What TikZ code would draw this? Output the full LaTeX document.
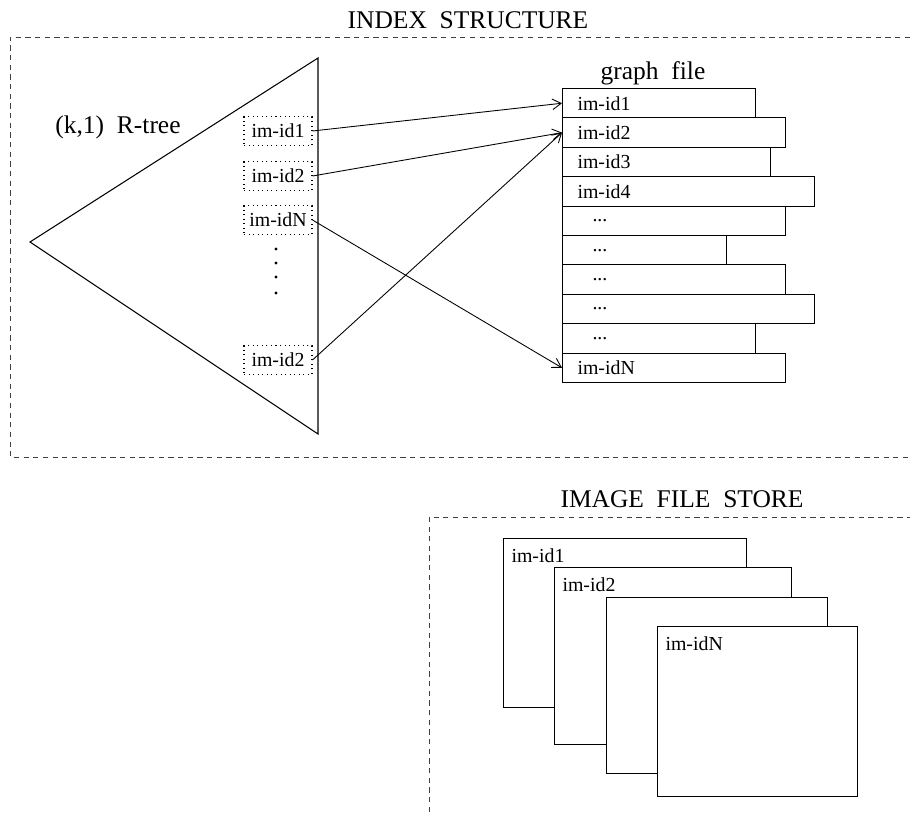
\documentclass[tikz,border=0pt]{standalone}
\usepackage{fontspec}
\setmainfont{Liberation Serif}
\usetikzlibrary{arrows.meta}

\begin{document}
\begin{tikzpicture}[x=0.02cm, y=-0.02cm, line width=0.6pt,
    small/.style={font=\fontsize{11.3}{13}\selectfont},
    big/.style={font=\fontsize{14.5}{17}\selectfont},
    region/.style={dash pattern=on 3pt off 2.5pt, line width=0.5pt, draw=black!75},
    idbox/.style={draw, dotted, small, minimum width=1.36cm, minimum height=0.58cm, inner sep=0pt},
    row/.style={draw, small, anchor=north west, minimum height=0.588cm, inner xsep=0.3cm, inner ysep=0pt, align=left},
    frame/.style={draw, fill=white, anchor=north west, inner sep=0pt},
    tag/.style={small, anchor=north west, inner sep=0pt, xshift=0.16cm, yshift=-0.2cm},
    link/.style={-{Straight Barb[length=5pt, width=6pt]}, line width=0.5pt}]
  \useasboundingbox (0, 0) rectangle (910, 818);
  % dashed regions
  \draw [region] (910, 37) -- (10, 37) -- (10, 457) -- (910, 457);
  \draw [region] (429, 812) -- (429, 517) -- (910, 517);
  \node [big] (idxtitle) at (468, 20) {INDEX\ \ STRUCTURE};
  \node [big] (imgtitle) at (682, 499) {IMAGE\ \ FILE\ \ STORE};
  % the R-tree
  \draw (30, 242) -- (318, 58) -- (318, 434) -- cycle;
  \node [big] (rtree) at (118, 127) {(k,1)\ \ R-tree};
  \node [idbox] (leaf1) at (278, 131) {im-id1};
  \node [idbox] (leaf2) at (278, 176) {im-id2};
  \node [idbox] (leafN) at (278, 220) {im-idN};
  \node [idbox] (leafL) at (278, 360) {im-id2};
  \foreach \y in {249, 263, 277, 293}
    \fill (276, \y) circle (0.9pt);
  % graph file
  \node [big] (gtitle) at (653, 73) {graph\ \ file};
  \node [row, text width=3.26cm] (g1) at (562, 88.0) {im-id1};
  \node [row, text width=3.86cm] (g2) at (562, 117.4) {im-id2};
  \node [row, text width=3.56cm] (g3) at (562, 146.8) {im-id3};
  \node [row, text width=4.44cm] (g4) at (562, 176.2) {im-id4};
  \node [row, text width=3.86cm] (g5) at (562, 205.6) {\hspace{0.3cm}...};
  \node [row, text width=2.68cm] (g6) at (562, 235.0) {\hspace{0.3cm}...};
  \node [row, text width=3.86cm] (g7) at (562, 264.4) {\hspace{0.3cm}...};
  \node [row, text width=4.44cm] (g8) at (562, 293.8) {\hspace{0.3cm}...};
  \node [row, text width=3.26cm] (g9) at (562, 323.2) {\hspace{0.3cm}...};
  \node [row, text width=3.86cm] (g10) at (562, 352.6) {im-idN};
  % pointers from the leaves
  \draw [link] (leaf1.east) -- (g1.west);
  \draw [link] (leaf2.east) -- (g2.west);
  \draw [link] (leafN.east) -- (g10.west);
  \draw [link] (leafL.east) -- (g2.west);
  % image file store
  \node [frame, minimum width=4.86cm, minimum height=3.38cm] (img1) at (503, 538) {};
  \node [tag] (tag1) at (img1.north west) {im-id1};
  \node [frame, minimum width=4.74cm, minimum height=3.54cm] (img2) at (554, 567) {};
  \node [tag] (tag2) at (img2.north west) {im-id2};
  \node [frame, minimum width=4.42cm, minimum height=3.52cm] (img3) at (606, 597) {};
  \node [frame, minimum width=4.00cm, minimum height=3.40cm] (imgN) at (657, 626) {};
  \node [tag] (tagN) at (imgN.north west) {im-idN};
\end{tikzpicture}
\end{document}
